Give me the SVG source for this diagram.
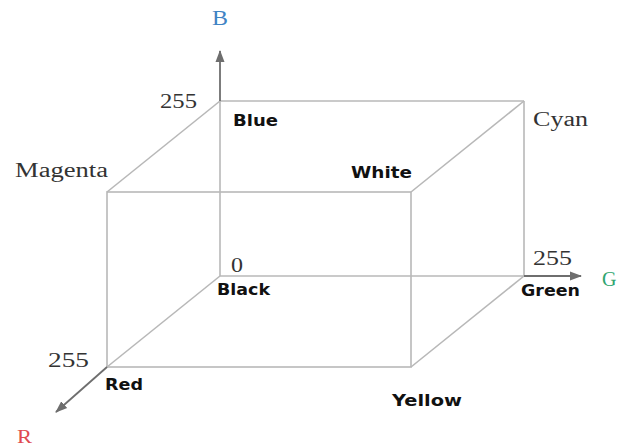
<svg xmlns="http://www.w3.org/2000/svg" width="617" height="448" viewBox="0 0 617 448">
<style>
.edge{stroke:#b8b8b8;stroke-width:1.6;fill:none}
.axis{stroke:#6e6e6e;stroke-width:1.8;fill:none}
.serif{font-family:"Liberation Serif","Times New Roman",serif;font-size:20px;fill:#333}
.bold{font-family:"DejaVu Sans",Verdana,sans-serif;font-weight:bold;font-size:16.5px;fill:#111}
</style>
<defs>
<marker id="arr" markerWidth="12" markerHeight="10" refX="11" refY="5" orient="auto" markerUnits="userSpaceOnUse">
<path d="M0,0.5 L12,5 L0,9.5 Z" fill="#6e6e6e"/>
</marker>
</defs>
<rect width="617" height="448" fill="#fff"/>
<g id="connectors">
<line class="edge" x1="220" y1="101" x2="524" y2="101"/>
<line class="edge" x1="524" y1="101" x2="524" y2="276"/>
<line class="edge" x1="220" y1="276" x2="524" y2="276"/>
<line class="edge" x1="220" y1="276" x2="220" y2="101"/>
<rect class="edge" x="107" y="192" width="304" height="175"/>
<line class="edge" x1="220" y1="101" x2="107" y2="192"/>
<line class="edge" x1="524" y1="101" x2="411" y2="192"/>
<line class="edge" x1="524" y1="276" x2="411" y2="367"/>
<line class="edge" x1="220" y1="276" x2="107" y2="367"/>
<line class="axis" x1="220" y1="101" x2="220" y2="51" marker-end="url(#arr)"/>
<line class="axis" x1="524" y1="276" x2="581" y2="276" marker-end="url(#arr)"/>
<line class="axis" x1="107" y1="367" x2="56" y2="412" marker-end="url(#arr)"/>
</g>
<g id="axis-B"><text x="212" y="25" font-family="Liberation Serif,serif" font-size="20" fill="#3f83c4" textLength="16" lengthAdjust="spacingAndGlyphs">B</text></g>
<g id="axis-G"><text x="602" y="286" font-family="Liberation Serif,serif" font-size="20" fill="#2fa570">G</text></g>
<g id="axis-R"><text x="17" y="443" font-family="Liberation Serif,serif" font-size="19" fill="#e04a50" textLength="15" lengthAdjust="spacingAndGlyphs">R</text></g>
<g id="node-blue">
<text class="serif" x="160" y="108" textLength="37" lengthAdjust="spacingAndGlyphs">255</text>
<text class="bold" x="233" y="126" textLength="45" lengthAdjust="spacingAndGlyphs">Blue</text>
</g>
<g id="node-cyan"><text class="serif" x="533" y="126" textLength="55" lengthAdjust="spacingAndGlyphs">Cyan</text></g>
<g id="node-magenta"><text class="serif" x="15" y="177" textLength="93" lengthAdjust="spacingAndGlyphs">Magenta</text></g>
<g id="node-white"><text class="bold" x="351" y="178" textLength="61" lengthAdjust="spacingAndGlyphs">White</text></g>
<g id="node-black">
<text class="serif" x="231" y="272" textLength="12" lengthAdjust="spacingAndGlyphs">0</text>
<text class="bold" x="217" y="295" textLength="53" lengthAdjust="spacingAndGlyphs">Black</text>
</g>
<g id="node-green">
<text class="serif" x="533" y="265" textLength="39" lengthAdjust="spacingAndGlyphs">255</text>
<text class="bold" x="521" y="296" textLength="59" lengthAdjust="spacingAndGlyphs">Green</text>
</g>
<g id="node-red">
<text class="serif" x="48" y="367" textLength="41" lengthAdjust="spacingAndGlyphs">255</text>
<text class="bold" x="105" y="390" textLength="38" lengthAdjust="spacingAndGlyphs">Red</text>
</g>
<g id="node-yellow"><text class="bold" x="392" y="406" textLength="70" lengthAdjust="spacingAndGlyphs">Yellow</text></g>
</svg>
